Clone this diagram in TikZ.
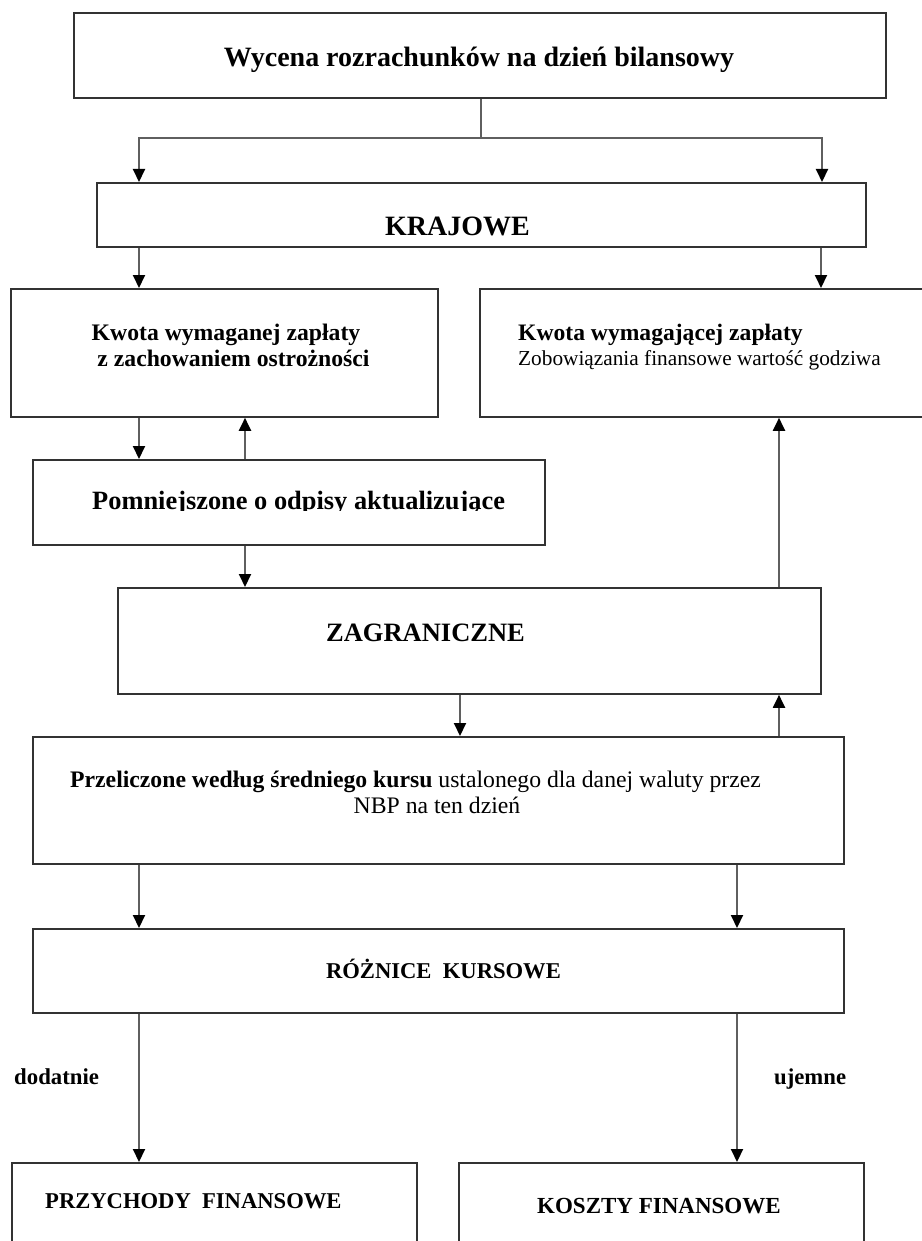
\documentclass[tikz,border=0pt]{standalone}
\usepackage{fontspec}
\setmainfont{Liberation Serif}
\usetikzlibrary{arrows.meta}
\definecolor{boxline}{RGB}{50,50,50}
\definecolor{connline}{RGB}{95,95,95}
\newcommand\fsz[1]{\fontsize{#1}{#1}\selectfont}
\begin{document}
\begin{tikzpicture}[x=1pt,y=-1pt,
  box/.style={draw=boxline, line width=1.8pt, fill=white, rectangle, inner sep=0pt, anchor=north west},
  conn/.style={draw=connline, line width=2pt, -{Triangle[length=13pt,width=12pt,color=black]}},
  conntwo/.style={draw=connline, line width=2pt, {Triangle[length=13pt,width=12pt,color=black]}-{Triangle[length=13pt,width=12pt,color=black]}},
  plain/.style={draw=connline, line width=2pt},
  txt/.style={inner sep=0pt, text=black}]
\useasboundingbox (0,0) rectangle (921,1241);
% boxes
\node[box, minimum width=812pt, minimum height=85pt] (top) at (73,12) {};
\node[box, minimum width=769pt, minimum height=64pt] (kraj) at (96,182) {};
\node[box, minimum width=427pt, minimum height=128pt] (kwl) at (10,288) {};
\node[box, minimum width=460pt, minimum height=128pt] (kwr) at (479,288) {};
\node[box, minimum width=512pt, minimum height=85pt] (pomn) at (32,459) {};
\node[box, minimum width=703pt, minimum height=106pt] (zagr) at (117,587) {};
\node[box, minimum width=811pt, minimum height=127pt] (przel) at (32,736) {};
\node[box, minimum width=811pt, minimum height=84pt] (rozn) at (32,928) {};
\node[box, minimum width=405pt, minimum height=100pt] (przych) at (11,1162) {};
\node[box, minimum width=405pt, minimum height=100pt] (koszt) at (458,1162) {};
% texts
\node[txt, anchor=base, font=\fsz{28}\bfseries] (tTop) at (479,67) {Wycena rozrachunków na dzień bilansowy};
\node[txt, anchor=base, font=\fsz{28}\bfseries] (tKraj) at (457.5,236) {KRAJOWE};
\node[txt, anchor=base, font=\fsz{23.7}\bfseries] (tKwl1) at (226,340) {Kwota wymaganej zapłaty};
\node[txt, anchor=base, font=\fsz{23.7}\bfseries] (tKwl2) at (233.5,366) {z zachowaniem ostrożności};
\node[txt, anchor=base west, font=\fsz{23.6}\bfseries] (tKwr1) at (518,340) {Kwota wymagającej zapłaty};
\node[txt, anchor=base west, font=\fsz{21.3}] (tKwr2) at (518,365) {Zobowiązania finansowe wartość godziwa};
\begin{scope}
\clip (0,440) rectangle (921,510.5);
\node[txt, anchor=base west, font=\fsz{26.4}\bfseries] (tPomn) at (92,509) {Pomniejszone o odpisy aktualizujące};
\end{scope}
\node[txt, anchor=base, font=\fsz{26.5}\bfseries] (tZagr) at (425.5,641) {ZAGRANICZNE};
\node[txt, anchor=base west, font=\fsz{23.7}] (tPrz1) at (70,787) {\textbf{Przeliczone według średniego kursu} ustalonego dla danej waluty przez};
\node[txt, anchor=base, font=\fsz{23.7}] (tPrz2) at (437,813) {NBP na ten dzień};
\node[txt, anchor=base, font=\fsz{22.6}\bfseries] (tRozn) at (443.5,978) {RÓŻNICE\ \ KURSOWE};
\node[txt, anchor=base west, font=\fsz{22.8}\bfseries] (tDod) at (14,1084) {dodatnie};
\node[txt, anchor=base west, font=\fsz{22.7}\bfseries] (tUje) at (774,1084) {ujemne};
\node[txt, anchor=base west, font=\fsz{22.6}\bfseries] (tPrzych) at (45,1208) {PRZYCHODY\ \ FINANSOWE};
\node[txt, anchor=base west, font=\fsz{23}\bfseries] (tKoszt) at (537,1213) {KOSZTY FINANSOWE};
% connectors
\coordinate (j) at (481,138);
\coordinate (jL) at (139,138);
\coordinate (jR) at (822,138);
\coordinate (xA) at (139,0);
\coordinate (xB) at (821,0);
\coordinate (xC) at (245,0);
\coordinate (xD) at (779,0);
\coordinate (xE) at (460,0);
\coordinate (xF) at (737,0);
\draw[plain] (j |- top.south) -- (j);
\draw[conntwo] (jL |- kraj.north) -- (jL) -- (jR) -- (jR |- kraj.north);
\draw[conn] (xA |- kraj.south) -- (xA |- kwl.north);
\draw[conn] (xB |- kraj.south) -- (xB |- kwr.north);
\draw[conn] (xA |- kwl.south) -- (xA |- pomn.north);
\draw[conn] (xC |- pomn.north) -- (xC |- kwl.south);
\draw[conn] (xC |- pomn.south) -- (xC |- zagr.north);
\draw[conn] (xD |- zagr.north) -- (xD |- kwr.south);
\draw[conn] (xE |- zagr.south) -- (xE |- przel.north);
\draw[conn] (xD |- przel.north) -- (xD |- zagr.south);
\draw[conn] (xA |- przel.south) -- (xA |- rozn.north);
\draw[conn] (xF |- przel.south) -- (xF |- rozn.north);
\draw[conn] (xA |- rozn.south) -- (xA |- przych.north);
\draw[conn] (xF |- rozn.south) -- (xF |- koszt.north);
\end{tikzpicture}
\end{document}
